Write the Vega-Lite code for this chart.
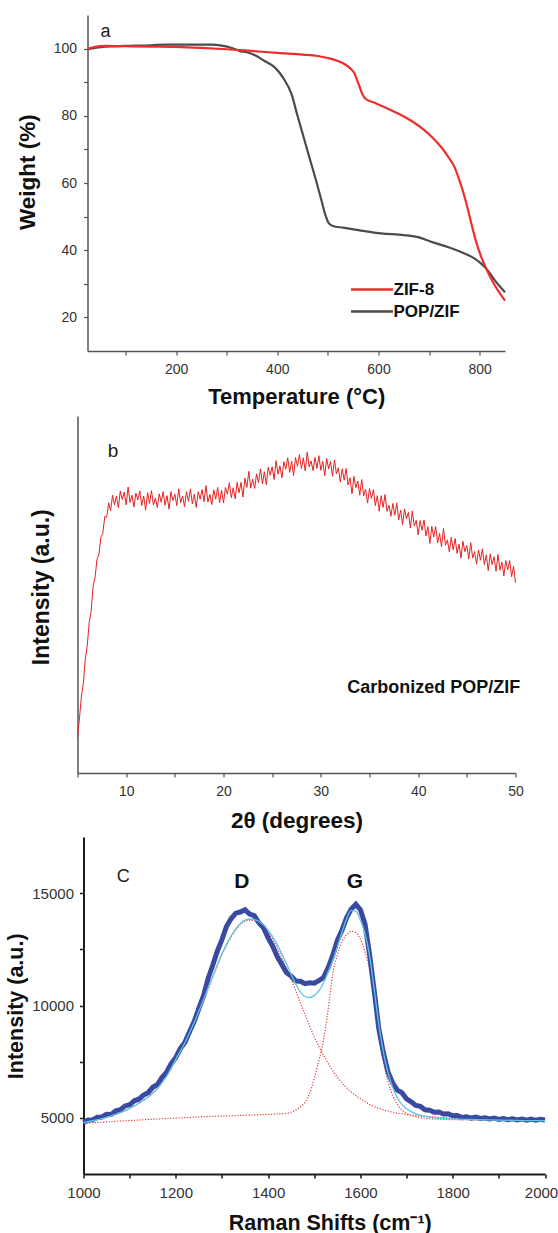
{
"$schema": "https://vega.github.io/schema/vega-lite/v6.json",
"background": "white",
"padding": {"left": 4.5, "top": 15, "right": 0, "bottom": 0},
"spacing": 0,
"config": {"view": {"stroke": null}, "font": "Liberation Sans", "axis": {"grid": false, "labelFont": "Liberation Sans", "titleFont": "Liberation Sans", "labelFlush": false, "labelOverlap": false, "labelColor": "#333", "titleColor": "#111", "titleFontWeight": "bold"}},
"datasets": {
"tga": [
{"temp":26,"weight":100.0,"sample":"ZIF-8"},{"temp":40,"weight":100.5,"sample":"ZIF-8"},{"temp":60,"weight":100.8,"sample":"ZIF-8"},{"temp":100,"weight":100.7,"sample":"ZIF-8"},{"temp":150,"weight":100.6,"sample":"ZIF-8"},{"temp":200,"weight":100.5,"sample":"ZIF-8"},{"temp":250,"weight":100.2,"sample":"ZIF-8"},{"temp":300,"weight":99.8,"sample":"ZIF-8"},{"temp":350,"weight":99.3,"sample":"ZIF-8"},{"temp":400,"weight":98.7,"sample":"ZIF-8"},{"temp":450,"weight":98.2,"sample":"ZIF-8"},{"temp":480,"weight":97.8,"sample":"ZIF-8"},{"temp":500,"weight":97.2,"sample":"ZIF-8"},{"temp":520,"weight":96.3,"sample":"ZIF-8"},{"temp":535,"weight":95.2,"sample":"ZIF-8"},{"temp":545,"weight":94.0,"sample":"ZIF-8"},{"temp":553,"weight":92.5,"sample":"ZIF-8"},{"temp":558,"weight":90.5,"sample":"ZIF-8"},{"temp":563,"weight":88.5,"sample":"ZIF-8"},{"temp":568,"weight":86.5,"sample":"ZIF-8"},{"temp":575,"weight":85.0,"sample":"ZIF-8"},{"temp":590,"weight":84.0,"sample":"ZIF-8"},{"temp":610,"weight":82.7,"sample":"ZIF-8"},{"temp":630,"weight":81.3,"sample":"ZIF-8"},{"temp":650,"weight":79.8,"sample":"ZIF-8"},{"temp":670,"weight":78.0,"sample":"ZIF-8"},{"temp":690,"weight":75.8,"sample":"ZIF-8"},{"temp":710,"weight":73.0,"sample":"ZIF-8"},{"temp":725,"weight":70.5,"sample":"ZIF-8"},{"temp":740,"weight":67.3,"sample":"ZIF-8"},{"temp":750,"weight":64.8,"sample":"ZIF-8"},{"temp":760,"weight":60.8,"sample":"ZIF-8"},{"temp":770,"weight":56.0,"sample":"ZIF-8"},{"temp":781,"weight":49.5,"sample":"ZIF-8"},{"temp":792,"weight":43.0,"sample":"ZIF-8"},{"temp":803,"weight":38.0,"sample":"ZIF-8"},{"temp":816,"weight":33.5,"sample":"ZIF-8"},{"temp":830,"weight":29.5,"sample":"ZIF-8"},{"temp":850,"weight":25.0,"sample":"ZIF-8"},
{"temp":26,"weight":99.8,"sample":"POP/ZIF"},{"temp":40,"weight":100.2,"sample":"POP/ZIF"},{"temp":60,"weight":100.6,"sample":"POP/ZIF"},{"temp":100,"weight":100.8,"sample":"POP/ZIF"},{"temp":150,"weight":101.0,"sample":"POP/ZIF"},{"temp":180,"weight":101.2,"sample":"POP/ZIF"},{"temp":270,"weight":101.2,"sample":"POP/ZIF"},{"temp":290,"weight":100.9,"sample":"POP/ZIF"},{"temp":310,"weight":100.2,"sample":"POP/ZIF"},{"temp":325,"weight":99.3,"sample":"POP/ZIF"},{"temp":340,"weight":98.9,"sample":"POP/ZIF"},{"temp":356,"weight":98.0,"sample":"POP/ZIF"},{"temp":375,"weight":96.3,"sample":"POP/ZIF"},{"temp":395,"weight":94.4,"sample":"POP/ZIF"},{"temp":412,"weight":91.2,"sample":"POP/ZIF"},{"temp":428,"weight":86.5,"sample":"POP/ZIF"},{"temp":440,"weight":80.0,"sample":"POP/ZIF"},{"temp":448,"weight":75.8,"sample":"POP/ZIF"},{"temp":458,"weight":70.5,"sample":"POP/ZIF"},{"temp":467,"weight":65.8,"sample":"POP/ZIF"},{"temp":477,"weight":60.5,"sample":"POP/ZIF"},{"temp":487,"weight":55.0,"sample":"POP/ZIF"},{"temp":495,"weight":50.5,"sample":"POP/ZIF"},{"temp":502,"weight":48.0,"sample":"POP/ZIF"},{"temp":510,"weight":47.2,"sample":"POP/ZIF"},{"temp":530,"weight":46.7,"sample":"POP/ZIF"},{"temp":560,"weight":46.0,"sample":"POP/ZIF"},{"temp":605,"weight":45.0,"sample":"POP/ZIF"},{"temp":650,"weight":44.5,"sample":"POP/ZIF"},{"temp":680,"weight":43.8,"sample":"POP/ZIF"},{"temp":704,"weight":42.5,"sample":"POP/ZIF"},{"temp":740,"weight":40.8,"sample":"POP/ZIF"},{"temp":770,"weight":39.0,"sample":"POP/ZIF"},{"temp":790,"weight":37.5,"sample":"POP/ZIF"},{"temp":803,"weight":36.0,"sample":"POP/ZIF"},{"temp":816,"weight":34.0,"sample":"POP/ZIF"},{"temp":830,"weight":31.0,"sample":"POP/ZIF"},{"temp":850,"weight":27.5,"sample":"POP/ZIF"}
],
"xrd": [
{"theta2":5.0,"intensity":100},{"theta2":5.2,"intensity":152},{"theta2":5.4,"intensity":215},{"theta2":5.6,"intensity":250},{"theta2":5.8,"intensity":319},{"theta2":6.0,"intensity":356},{"theta2":6.2,"intensity":421},{"theta2":6.4,"intensity":453},{"theta2":6.6,"intensity":523},{"theta2":6.8,"intensity":547},{"theta2":7.0,"intensity":597},{"theta2":7.2,"intensity":613},{"theta2":7.4,"intensity":660},{"theta2":7.6,"intensity":671},{"theta2":7.8,"intensity":718},{"theta2":8.0,"intensity":716},{"theta2":8.2,"intensity":757},{"theta2":8.4,"intensity":734},{"theta2":8.6,"intensity":778},{"theta2":8.8,"intensity":751},
{"theta2":9.0,"intensity":776},{"theta2":9.2,"intensity":743},{"theta2":9.4,"intensity":790},{"theta2":9.6,"intensity":766},{"theta2":9.8,"intensity":787},{"theta2":10.0,"intensity":751},{"theta2":10.2,"intensity":801},{"theta2":10.4,"intensity":758},{"theta2":10.6,"intensity":778},{"theta2":10.8,"intensity":745},{"theta2":11.0,"intensity":784},{"theta2":11.2,"intensity":765},{"theta2":11.4,"intensity":790},{"theta2":11.6,"intensity":749},{"theta2":11.8,"intensity":776},{"theta2":12.0,"intensity":736},{"theta2":12.2,"intensity":785},{"theta2":12.4,"intensity":755},{"theta2":12.6,"intensity":791},{"theta2":12.8,"intensity":751},
{"theta2":13.0,"intensity":770},{"theta2":13.2,"intensity":744},{"theta2":13.4,"intensity":782},{"theta2":13.6,"intensity":758},{"theta2":13.8,"intensity":788},{"theta2":14.0,"intensity":750},{"theta2":14.2,"intensity":777},{"theta2":14.4,"intensity":739},{"theta2":14.6,"intensity":788},{"theta2":14.8,"intensity":763},{"theta2":15.0,"intensity":781},{"theta2":15.2,"intensity":749},{"theta2":15.4,"intensity":796},{"theta2":15.6,"intensity":757},{"theta2":15.8,"intensity":776},{"theta2":16.0,"intensity":746},{"theta2":16.2,"intensity":788},{"theta2":16.4,"intensity":761},{"theta2":16.6,"intensity":796},{"theta2":16.8,"intensity":754},
{"theta2":17.0,"intensity":781},{"theta2":17.2,"intensity":744},{"theta2":17.4,"intensity":788},{"theta2":17.6,"intensity":767},{"theta2":17.8,"intensity":794},{"theta2":18.0,"intensity":760},{"theta2":18.2,"intensity":805},{"theta2":18.4,"intensity":759},{"theta2":18.6,"intensity":780},{"theta2":18.8,"intensity":752},{"theta2":19.0,"intensity":793},{"theta2":19.2,"intensity":767},{"theta2":19.4,"intensity":800},{"theta2":19.6,"intensity":758},{"theta2":19.8,"intensity":792},{"theta2":20.0,"intensity":756},{"theta2":20.2,"intensity":800},{"theta2":20.4,"intensity":781},{"theta2":20.6,"intensity":813},{"theta2":20.8,"intensity":771},
{"theta2":21.0,"intensity":799},{"theta2":21.2,"intensity":768},{"theta2":21.4,"intensity":814},{"theta2":21.6,"intensity":785},{"theta2":21.8,"intensity":814},{"theta2":22.0,"intensity":773},{"theta2":22.2,"intensity":826},{"theta2":22.4,"intensity":800},{"theta2":22.6,"intensity":845},{"theta2":22.8,"intensity":798},{"theta2":23.0,"intensity":823},{"theta2":23.2,"intensity":797},{"theta2":23.4,"intensity":838},{"theta2":23.6,"intensity":813},{"theta2":23.8,"intensity":852},{"theta2":24.0,"intensity":810},{"theta2":24.2,"intensity":844},{"theta2":24.4,"intensity":808},{"theta2":24.6,"intensity":857},{"theta2":24.8,"intensity":834},
{"theta2":25.0,"intensity":858},{"theta2":25.2,"intensity":822},{"theta2":25.4,"intensity":875},{"theta2":25.6,"intensity":837},{"theta2":25.8,"intensity":860},{"theta2":26.0,"intensity":827},{"theta2":26.2,"intensity":872},{"theta2":26.4,"intensity":851},{"theta2":26.6,"intensity":883},{"theta2":26.8,"intensity":842},{"theta2":27.0,"intensity":873},{"theta2":27.2,"intensity":833},{"theta2":27.4,"intensity":884},{"theta2":27.6,"intensity":859},{"theta2":27.8,"intensity":892},{"theta2":28.0,"intensity":853},{"theta2":28.2,"intensity":883},{"theta2":28.4,"intensity":846},{"theta2":28.6,"intensity":899},{"theta2":28.8,"intensity":858},
{"theta2":29.0,"intensity":874},{"theta2":29.2,"intensity":847},{"theta2":29.4,"intensity":884},{"theta2":29.6,"intensity":853},{"theta2":29.8,"intensity":889},{"theta2":30.0,"intensity":848},{"theta2":30.2,"intensity":873},{"theta2":30.4,"intensity":833},{"theta2":30.6,"intensity":881},{"theta2":30.8,"intensity":852},{"theta2":31.0,"intensity":873},{"theta2":31.2,"intensity":831},{"theta2":31.4,"intensity":877},{"theta2":31.6,"intensity":838},{"theta2":31.8,"intensity":855},{"theta2":32.0,"intensity":815},{"theta2":32.2,"intensity":852},{"theta2":32.4,"intensity":820},{"theta2":32.6,"intensity":853},{"theta2":32.8,"intensity":807},
{"theta2":33.0,"intensity":827},{"theta2":33.2,"intensity":782},{"theta2":33.4,"intensity":831},{"theta2":33.6,"intensity":799},{"theta2":33.8,"intensity":818},{"theta2":34.0,"intensity":778},{"theta2":34.2,"intensity":822},{"theta2":34.4,"intensity":776},{"theta2":34.6,"intensity":795},{"theta2":34.8,"intensity":756},{"theta2":35.0,"intensity":797},{"theta2":35.2,"intensity":769},{"theta2":35.4,"intensity":794},{"theta2":35.6,"intensity":749},{"theta2":35.8,"intensity":777},{"theta2":36.0,"intensity":733},{"theta2":36.2,"intensity":777},{"theta2":36.4,"intensity":744},{"theta2":36.6,"intensity":780},{"theta2":36.8,"intensity":733},
{"theta2":37.0,"intensity":750},{"theta2":37.2,"intensity":719},{"theta2":37.4,"intensity":755},{"theta2":37.6,"intensity":722},{"theta2":37.8,"intensity":756},{"theta2":38.0,"intensity":709},{"theta2":38.2,"intensity":736},{"theta2":38.4,"intensity":696},{"theta2":38.6,"intensity":740},{"theta2":38.8,"intensity":712},{"theta2":39.0,"intensity":730},{"theta2":39.2,"intensity":686},{"theta2":39.4,"intensity":734},{"theta2":39.6,"intensity":692},{"theta2":39.8,"intensity":708},{"theta2":40.0,"intensity":667},{"theta2":40.2,"intensity":707},{"theta2":40.4,"intensity":680},{"theta2":40.6,"intensity":709},{"theta2":40.8,"intensity":664},
{"theta2":41.0,"intensity":690},{"theta2":41.2,"intensity":643},{"theta2":41.4,"intensity":691},{"theta2":41.6,"intensity":661},{"theta2":41.8,"intensity":690},{"theta2":42.0,"intensity":645},{"theta2":42.2,"intensity":671},{"theta2":42.4,"intensity":634},{"theta2":42.6,"intensity":685},{"theta2":42.8,"intensity":638},{"theta2":43.0,"intensity":653},{"theta2":43.2,"intensity":620},{"theta2":43.4,"intensity":660},{"theta2":43.6,"intensity":625},{"theta2":43.8,"intensity":657},{"theta2":44.0,"intensity":615},{"theta2":44.2,"intensity":641},{"theta2":44.4,"intensity":602},{"theta2":44.6,"intensity":649},{"theta2":44.8,"intensity":620},
{"theta2":45.0,"intensity":637},{"theta2":45.2,"intensity":599},{"theta2":45.4,"intensity":645},{"theta2":45.6,"intensity":602},{"theta2":45.8,"intensity":620},{"theta2":46.0,"intensity":585},{"theta2":46.2,"intensity":625},{"theta2":46.4,"intensity":596},{"theta2":46.6,"intensity":628},{"theta2":46.8,"intensity":584},{"theta2":47.0,"intensity":611},{"theta2":47.2,"intensity":567},{"theta2":47.4,"intensity":614},{"theta2":47.6,"intensity":584},{"theta2":47.8,"intensity":606},{"theta2":48.0,"intensity":565},{"theta2":48.2,"intensity":612},{"theta2":48.4,"intensity":568},{"theta2":48.6,"intensity":591},{"theta2":48.8,"intensity":552},
{"theta2":49.0,"intensity":595},{"theta2":49.2,"intensity":569},{"theta2":49.4,"intensity":595},{"theta2":49.6,"intensity":550},{"theta2":49.8,"intensity":579},{"theta2":50.0,"intensity":533}
],
"raman_data": [
{"shift":1000,"intensity":4790},{"shift":1010,"intensity":4900},{"shift":1020,"intensity":4910},{"shift":1030,"intensity":5030},{"shift":1040,"intensity":5040},{"shift":1050,"intensity":5160},{"shift":1060,"intensity":5150},{"shift":1070,"intensity":5310},{"shift":1080,"intensity":5360},{"shift":1090,"intensity":5530},{"shift":1100,"intensity":5580},{"shift":1110,"intensity":5760},{"shift":1120,"intensity":5830},{"shift":1130,"intensity":6010},{"shift":1140,"intensity":6120},{"shift":1150,"intensity":6360},{"shift":1160,"intensity":6480},{"shift":1170,"intensity":6800},{"shift":1180,"intensity":7030},{"shift":1190,"intensity":7410},
{"shift":1200,"intensity":7690},{"shift":1210,"intensity":8090},{"shift":1220,"intensity":8370},{"shift":1230,"intensity":8840},{"shift":1240,"intensity":9300},{"shift":1250,"intensity":9880},{"shift":1260,"intensity":10430},{"shift":1270,"intensity":11200},{"shift":1280,"intensity":11790},{"shift":1290,"intensity":12420},{"shift":1300,"intensity":12930},{"shift":1310,"intensity":13530},{"shift":1320,"intensity":13870},{"shift":1330,"intensity":14110},{"shift":1340,"intensity":14160},{"shift":1350,"intensity":14260},{"shift":1360,"intensity":14070},{"shift":1370,"intensity":14000},{"shift":1380,"intensity":13680},{"shift":1390,"intensity":13460},
{"shift":1400,"intensity":13010},{"shift":1410,"intensity":12640},{"shift":1420,"intensity":12170},{"shift":1430,"intensity":11820},{"shift":1440,"intensity":11460},{"shift":1450,"intensity":11310},{"shift":1460,"intensity":11090},{"shift":1470,"intensity":11080},{"shift":1480,"intensity":10970},{"shift":1490,"intensity":11010},{"shift":1500,"intensity":10990},{"shift":1510,"intensity":11110},{"shift":1520,"intensity":11240},{"shift":1530,"intensity":11680},{"shift":1540,"intensity":12230},{"shift":1550,"intensity":12900},{"shift":1560,"intensity":13350},{"shift":1570,"intensity":13900},{"shift":1580,"intensity":14290},{"shift":1590,"intensity":14510},
{"shift":1600,"intensity":14260},{"shift":1610,"intensity":13620},{"shift":1620,"intensity":12250},{"shift":1630,"intensity":10640},{"shift":1640,"intensity":8950},{"shift":1650,"intensity":7880},{"shift":1660,"intensity":7030},{"shift":1670,"intensity":6550},{"shift":1680,"intensity":6230},{"shift":1690,"intensity":6120},{"shift":1700,"intensity":5840},{"shift":1710,"intensity":5710},{"shift":1720,"intensity":5550},{"shift":1730,"intensity":5510},{"shift":1740,"intensity":5360},{"shift":1750,"intensity":5340},{"shift":1760,"intensity":5250},{"shift":1770,"intensity":5260},{"shift":1780,"intensity":5170},{"shift":1790,"intensity":5180},
{"shift":1800,"intensity":5090},{"shift":1810,"intensity":5100},{"shift":1820,"intensity":5020},{"shift":1830,"intensity":5050},{"shift":1840,"intensity":4990},{"shift":1850,"intensity":5030},{"shift":1860,"intensity":4970},{"shift":1870,"intensity":5000},{"shift":1880,"intensity":4950},{"shift":1890,"intensity":4990},{"shift":1900,"intensity":4930},{"shift":1910,"intensity":4970},{"shift":1920,"intensity":4920},{"shift":1930,"intensity":4960},{"shift":1940,"intensity":4910},{"shift":1950,"intensity":4950},{"shift":1960,"intensity":4900},{"shift":1970,"intensity":4940},{"shift":1980,"intensity":4890},{"shift":1990,"intensity":4930},{"shift":2000,"intensity":4900}
],
"raman_fit": [
{"shift":1000,"intensity":4780},{"shift":1020,"intensity":4870},{"shift":1040,"intensity":4970},{"shift":1060,"intensity":5090},{"shift":1080,"intensity":5230},{"shift":1100,"intensity":5420},{"shift":1120,"intensity":5650},{"shift":1140,"intensity":5930},{"shift":1160,"intensity":6300},{"shift":1180,"intensity":6850},{"shift":1200,"intensity":7600},{"shift":1220,"intensity":8350},{"shift":1240,"intensity":9250},{"shift":1260,"intensity":10250},{"shift":1280,"intensity":11300},{"shift":1300,"intensity":12300},{"shift":1320,"intensity":13100},{"shift":1340,"intensity":13650},{"shift":1360,"intensity":13850},{"shift":1380,"intensity":13750},{"shift":1400,"intensity":13350},{"shift":1420,"intensity":12700},{"shift":1440,"intensity":11850},{"shift":1460,"intensity":10950},{"shift":1470,"intensity":10600},{"shift":1480,"intensity":10400},{"shift":1490,"intensity":10350},{"shift":1500,"intensity":10450},{"shift":1510,"intensity":10650},{"shift":1520,"intensity":11000},{"shift":1530,"intensity":11500},{"shift":1540,"intensity":12000},{"shift":1550,"intensity":12600},{"shift":1560,"intensity":13250},{"shift":1570,"intensity":13850},{"shift":1580,"intensity":14230},{"shift":1590,"intensity":14200},{"shift":1600,"intensity":13800},{"shift":1610,"intensity":13200},{"shift":1620,"intensity":12200},{"shift":1630,"intensity":10700},{"shift":1640,"intensity":9150},{"shift":1650,"intensity":7900},{"shift":1660,"intensity":7000},{"shift":1670,"intensity":6350},{"shift":1680,"intensity":5900},{"shift":1690,"intensity":5600},{"shift":1700,"intensity":5400},{"shift":1720,"intensity":5180},{"shift":1740,"intensity":5060},{"shift":1760,"intensity":5000},{"shift":1800,"intensity":4950},{"shift":1850,"intensity":4920},{"shift":1900,"intensity":4900},{"shift":1950,"intensity":4880},{"shift":2000,"intensity":4870}
],
"raman_d": [
{"shift":1000,"intensity":4780},{"shift":1040,"intensity":4970},{"shift":1080,"intensity":5230},{"shift":1120,"intensity":5650},{"shift":1160,"intensity":6300},{"shift":1200,"intensity":7550},{"shift":1240,"intensity":9150},{"shift":1280,"intensity":11250},{"shift":1300,"intensity":12250},{"shift":1320,"intensity":13050},{"shift":1340,"intensity":13600},{"shift":1360,"intensity":13800},{"shift":1380,"intensity":13680},{"shift":1400,"intensity":13250},{"shift":1420,"intensity":12550},{"shift":1440,"intensity":11650},{"shift":1460,"intensity":10650},{"shift":1480,"intensity":9600},{"shift":1500,"intensity":8600},{"shift":1520,"intensity":7800},{"shift":1540,"intensity":7100},{"shift":1560,"intensity":6550},{"shift":1580,"intensity":6150},{"shift":1600,"intensity":5850},{"shift":1620,"intensity":5600},{"shift":1640,"intensity":5420},{"shift":1660,"intensity":5300},{"shift":1680,"intensity":5210},{"shift":1700,"intensity":5150},{"shift":1750,"intensity":5050},{"shift":1800,"intensity":4980},{"shift":1900,"intensity":4910},{"shift":2000,"intensity":4880}
],
"raman_g": [
{"shift":1000,"intensity":4760},{"shift":1100,"intensity":4880},{"shift":1200,"intensity":4990},{"shift":1300,"intensity":5080},{"shift":1400,"intensity":5155},{"shift":1440,"intensity":5200},{"shift":1460,"intensity":5350},{"shift":1470,"intensity":5480},{"shift":1480,"intensity":5700},{"shift":1490,"intensity":6100},{"shift":1500,"intensity":6750},{"shift":1510,"intensity":7550},{"shift":1520,"intensity":8450},{"shift":1530,"intensity":9800},{"shift":1540,"intensity":11400},{"shift":1550,"intensity":12250},{"shift":1560,"intensity":12850},{"shift":1570,"intensity":13150},{"shift":1580,"intensity":13300},{"shift":1590,"intensity":13250},{"shift":1600,"intensity":12950},{"shift":1610,"intensity":12400},{"shift":1620,"intensity":11600},{"shift":1630,"intensity":10200},{"shift":1640,"intensity":8750},{"shift":1650,"intensity":7500},{"shift":1660,"intensity":6600},{"shift":1670,"intensity":6000},{"shift":1680,"intensity":5600},{"shift":1690,"intensity":5350},{"shift":1700,"intensity":5200},{"shift":1720,"intensity":5050},{"shift":1740,"intensity":4980},{"shift":1760,"intensity":4950},{"shift":1800,"intensity":4920},{"shift":1900,"intensity":4890},{"shift":2000,"intensity":4880}
]
},
"vconcat": [
{
"width": 428, "height": 336,
"layer": [
 {"data": {"name": "tga"}, "transform": [{"filter": "datum.sample === 'POP/ZIF'"}], "mark": {"type": "line", "strokeWidth": 2.2, "interpolate": "monotone"},
  "encoding": {
   "x": {"field": "temp", "type": "quantitative", "scale": {"domain": [25, 850], "range": [10, 427.5], "nice": false, "zero": false},
    "axis": {"values": [100,200,300,400,500,600,700,800], "labelExpr": "datum.value % 200 === 0 ? datum.label : ''", "title": "Temperature (°C)", "titleFontSize": 22, "titleY": 52, "titleBaseline": "alphabetic", "tickSize": 4, "labelFontSize": 14, "labelPadding": 7, "domainColor": "#555", "tickColor": "#555", "domainWidth": 1.5, "tickWidth": 1.2, "minExtent": 65, "maxExtent": 65}},
   "y": {"field": "weight", "type": "quantitative", "scale": {"domain": [10, 110], "nice": false, "zero": false},
    "axis": {"values": [20,30,40,50,60,70,80,90,100], "labelExpr": "datum.value % 20 === 0 ? datum.label : ''", "title": "Weight (%)", "titleFontSize": 22.5, "titleAngle": 270, "titleBaseline": "middle", "titleAlign": "center", "titleX": -60.5, "titleY": 156.7, "offset": -10, "tickSize": 4, "labelFontSize": 14, "labelPadding": 7, "domainColor": "#555", "tickColor": "#555", "domainWidth": 1.5, "tickWidth": 1.2}},
   "color": {"field": "sample", "type": "nominal", "scale": {"domain": ["ZIF-8", "POP/ZIF"], "range": ["#ee2d2d", "#4b4b4b"]},
    "legend": {"orient": "none", "legendX": 286, "legendY": 266, "title": null, "padding": 0, "symbolType": "M-4,0H4", "symbolSize": 110, "symbolStrokeWidth": 2.5, "labelFontSize": 17, "labelFontWeight": "bold", "labelColor": "#111", "labelOffset": 13, "rowPadding": 4}}}},
 {"data": {"name": "tga"}, "transform": [{"filter": "datum.sample === 'ZIF-8'"}], "mark": {"type": "line", "strokeWidth": 2.2, "interpolate": "monotone"},
  "encoding": {"x": {"field": "temp", "type": "quantitative"}, "y": {"field": "weight", "type": "quantitative"}, "color": {"field": "sample", "type": "nominal"}}},
 {"data": {"values": [{}]}, "mark": {"type": "text", "text": "a", "fontSize": 18, "align": "left", "baseline": "alphabetic", "color": "#222"},
  "encoding": {"x": {"datum": 50.9, "type": "quantitative"}, "y": {"datum": 103.5, "type": "quantitative"}}}
]
},
{
"width": 438, "height": 357,
"layer": [
 {"data": {"name": "xrd"}, "mark": {"type": "line", "color": "#e62222", "strokeWidth": 1},
  "encoding": {
   "x": {"field": "theta2", "type": "quantitative", "scale": {"domain": [5, 50], "nice": false, "zero": false},
    "axis": {"values": [5,10,15,20,25,30,35,40,45,50], "labelExpr": "datum.value % 10 === 0 ? datum.label : ''", "title": "2θ (degrees)", "titleFontSize": 22.5, "titleY": 54, "titleBaseline": "alphabetic", "tickSize": 4, "labelFontSize": 14, "labelPadding": 7, "domainColor": "#555", "tickColor": "#555", "domainWidth": 1.5, "tickWidth": 1.2, "minExtent": 64, "maxExtent": 64}},
   "y": {"field": "intensity", "type": "quantitative", "scale": {"domain": [0, 1000], "nice": false, "zero": false},
    "axis": {"labels": false, "ticks": false, "title": "Intensity (a.u.)", "titleFontSize": 23, "titleAngle": 270, "titleBaseline": "middle", "titleAlign": "center", "titleX": -36.5, "titleY": 170.7, "domainColor": "#555", "domainWidth": 1.5}}}},
 {"data": {"values": [{}]}, "mark": {"type": "text", "text": "b", "fontSize": 19, "align": "left", "baseline": "alphabetic", "color": "#222"},
  "encoding": {"x": {"datum": 8.1, "type": "quantitative"}, "y": {"datum": 885, "type": "quantitative"}}},
 {"data": {"values": [{}]}, "mark": {"type": "text", "text": "Carbonized POP/ZIF", "fontSize": 18, "fontWeight": "bold", "align": "right", "baseline": "alphabetic", "color": "#111"},
  "encoding": {"x": {"datum": 50.5, "type": "quantitative"}, "y": {"datum": 223, "type": "quantitative"}}}
]
},
{
"width": 468, "height": 337,
"layer": [
 {"data": {"name": "raman_g"}, "mark": {"type": "line", "color": "#e63b3b", "strokeWidth": 1.2, "strokeDash": [1.2, 1.6], "interpolate": "monotone"},
  "encoding": {
   "x": {"field": "shift", "type": "quantitative", "scale": {"domain": [1000, 2000], "range": [6, 467.5], "nice": false, "zero": false},
    "axis": {"values": [1000,1100,1200,1300,1400,1500,1600,1700,1800,1900,2000], "format": "d", "labelExpr": "datum.value % 200 === 0 ? datum.label : ''", "labelOffset": {"condition": {"test": "datum.value === 2000", "value": -4}, "value": 0}, "title": "Raman Shifts (cm⁻¹)", "titleFontSize": 21.5, "titleX": 252.3, "titleAlign": "center", "titleY": 55, "titleBaseline": "alphabetic", "tickSize": 4, "labelFontSize": 15, "labelPadding": 7, "domainColor": "#1a1a1a", "tickColor": "#1a1a1a", "domainWidth": 2, "tickWidth": 1.5}},
   "y": {"field": "intensity", "type": "quantitative", "scale": {"domain": [2500, 17500], "nice": false, "zero": false},
    "axis": {"values": [5000,7500,10000,12500,15000], "format": "d", "labelExpr": "datum.value % 5000 === 0 ? datum.label : ''", "title": "Intensity (a.u.)", "titleFontSize": 21.5, "titleAngle": 270, "titleBaseline": "middle", "titleAlign": "center", "titleX": -67.2, "titleY": 168.8, "offset": -6, "tickSize": 4, "labelFontSize": 15, "labelPadding": 6, "domainColor": "#1a1a1a", "tickColor": "#1a1a1a", "domainWidth": 2, "tickWidth": 1.5}}}},
 {"data": {"name": "raman_d"}, "mark": {"type": "line", "color": "#e63b3b", "strokeWidth": 1.2, "strokeDash": [1.2, 1.6], "interpolate": "monotone"},
  "encoding": {"x": {"field": "shift", "type": "quantitative"}, "y": {"field": "intensity", "type": "quantitative"}}},
 {"data": {"name": "raman_data"}, "mark": {"type": "line", "color": "#3a4aa3", "strokeWidth": 5},
  "encoding": {"x": {"field": "shift", "type": "quantitative"}, "y": {"field": "intensity", "type": "quantitative"}}},
 {"data": {"name": "raman_fit"}, "mark": {"type": "line", "color": "#5cc6e2", "strokeWidth": 1.3, "interpolate": "monotone"},
  "encoding": {"x": {"field": "shift", "type": "quantitative"}, "y": {"field": "intensity", "type": "quantitative"}}},
 {"data": {"values": [{}]}, "mark": {"type": "text", "text": "C", "fontSize": 18, "align": "left", "baseline": "alphabetic", "color": "#222"},
  "encoding": {"x": {"datum": 1072, "type": "quantitative"}, "y": {"datum": 15510, "type": "quantitative"}}},
 {"data": {"values": [{}]}, "mark": {"type": "text", "text": "D", "fontSize": 21, "fontWeight": "bold", "align": "center", "baseline": "alphabetic", "color": "#111"},
  "encoding": {"x": {"datum": 1343, "type": "quantitative"}, "y": {"datum": 15208, "type": "quantitative"}}},
 {"data": {"values": [{}]}, "mark": {"type": "text", "text": "G", "fontSize": 21, "fontWeight": "bold", "align": "center", "baseline": "alphabetic", "color": "#111"},
  "encoding": {"x": {"datum": 1588, "type": "quantitative"}, "y": {"datum": 15208, "type": "quantitative"}}}
]
}
]
}
